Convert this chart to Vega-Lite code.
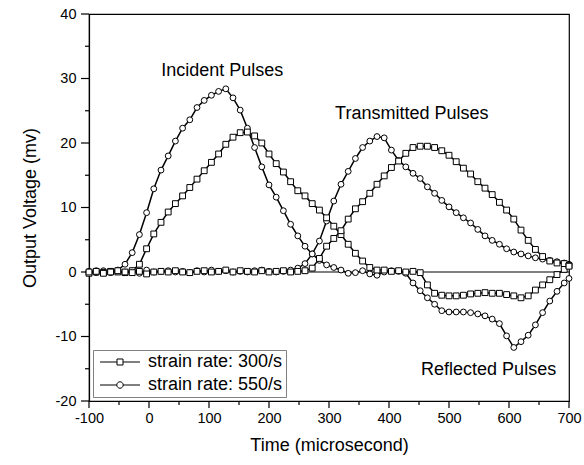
{
 "$schema": "https://vega.github.io/schema/vega-lite/v6.json",
 "width": 480,
 "height": 387,
 "autosize": {"type": "none"},
 "padding": {"left": 89, "top": 14, "right": 15, "bottom": 64},
 "background": "white",
 "config": {
  "view": {"stroke": "black", "strokeWidth": 1.2},
  "font": "Liberation Sans",
  "axis": {"grid": false, "domainColor": "black", "tickColor": "black", "labelColor": "black", "titleColor": "black", "labelFont": "Liberation Sans", "titleFont": "Liberation Sans", "labelFontSize": 14.5, "titleFontSize": 18, "titleFontWeight": "normal", "domainWidth": 1.2, "labelFlush": false}
 },
 "datasets": {
  "curves": [
   {"t":-100,"a":0.1,"b":0,"c":-0.2,"d":0},
   {"t":-88,"a":-0.1,"b":0.2,"c":0,"d":0.1},
   {"t":-76,"a":0.2,"b":0,"c":-0.1,"d":-0.2},
   {"t":-64,"a":0,"b":-0.1,"c":0.1,"d":0},
   {"t":-52,"a":0.3,"b":0.1,"c":0,"d":0.2},
   {"t":-40,"a":1.2,"b":0,"c":-0.1,"d":0},
   {"t":-28,"a":3.0,"b":0.2,"c":0.2,"d":-0.1},
   {"t":-16,"a":5.8,"b":-0.2,"c":1.2,"d":0.1},
   {"t":-4,"a":9.2,"b":0.3,"c":3.6,"d":-0.3},
   {"t":8,"a":12.9,"b":0,"c":5.9,"d":0},
   {"t":20,"a":15.8,"b":0.1,"c":7.7,"d":0.1},
   {"t":32,"a":18.0,"b":0.2,"c":9.3,"d":0},
   {"t":44,"a":20.3,"b":0,"c":10.6,"d":0.2},
   {"t":56,"a":22.3,"b":0.1,"c":11.8,"d":0},
   {"t":68,"a":23.6,"b":-0.1,"c":13.1,"d":-0.1},
   {"t":80,"a":25.5,"b":0.2,"c":14.4,"d":0.1},
   {"t":92,"a":26.6,"b":0,"c":15.7,"d":0.2},
   {"t":104,"a":27.4,"b":0.3,"c":17.0,"d":0},
   {"t":116,"a":28.0,"b":0.1,"c":18.3,"d":0.1},
   {"t":128,"a":28.4,"b":0.2,"c":19.8,"d":0.3},
   {"t":140,"a":27.0,"b":0,"c":20.9,"d":0},
   {"t":152,"a":25.1,"b":0.1,"c":21.6,"d":0.2},
   {"t":164,"a":22.3,"b":0,"c":21.7,"d":0.1},
   {"t":176,"a":19.3,"b":0.2,"c":21.1,"d":0},
   {"t":188,"a":16.3,"b":0.3,"c":20.0,"d":0.2},
   {"t":200,"a":13.5,"b":0.1,"c":18.3,"d":0},
   {"t":212,"a":11.6,"b":0,"c":16.8,"d":0.1},
   {"t":224,"a":9.5,"b":0.1,"c":15.5,"d":0.2},
   {"t":236,"a":7.4,"b":0.3,"c":14.0,"d":0},
   {"t":248,"a":5.6,"b":0.6,"c":12.6,"d":0.1},
   {"t":260,"a":4.0,"b":1.3,"c":11.8,"d":0.2},
   {"t":272,"a":2.8,"b":2.8,"c":10.6,"d":0.6},
   {"t":284,"a":1.8,"b":4.8,"c":9.6,"d":2.1},
   {"t":296,"a":1.1,"b":7.9,"c":8.4,"d":4.0},
   {"t":308,"a":0.7,"b":11.0,"c":7.1,"d":5.2},
   {"t":320,"a":0.3,"b":13.6,"c":5.8,"d":6.4},
   {"t":332,"a":-0.2,"b":15.6,"c":4.3,"d":8.2},
   {"t":344,"a":-0.1,"b":17.6,"c":2.9,"d":9.8},
   {"t":356,"a":0.2,"b":19.3,"c":1.7,"d":10.9},
   {"t":368,"a":-0.3,"b":20.3,"c":0.7,"d":12.2},
   {"t":380,"a":-0.5,"b":21.0,"c":0.3,"d":13.6},
   {"t":392,"a":0,"b":20.8,"c":0.3,"d":14.9},
   {"t":404,"a":0.2,"b":18.9,"c":0.1,"d":16.2},
   {"t":416,"a":0.1,"b":17.3,"c":0.2,"d":17.2},
   {"t":428,"a":-0.2,"b":16.3,"c":0,"d":18.4},
   {"t":440,"a":-1.7,"b":15.3,"c":0.1,"d":19.3},
   {"t":452,"a":-2.9,"b":14.5,"c":-0.1,"d":19.5},
   {"t":464,"a":-4.0,"b":13.2,"c":-2.0,"d":19.5},
   {"t":476,"a":-5.0,"b":12.2,"c":-3.3,"d":19.3},
   {"t":488,"a":-6.0,"b":11.1,"c":-3.6,"d":18.8},
   {"t":500,"a":-6.2,"b":10.1,"c":-3.7,"d":18.1},
   {"t":512,"a":-6.2,"b":9.2,"c":-3.7,"d":17.1},
   {"t":524,"a":-6.2,"b":8.4,"c":-3.6,"d":16.1},
   {"t":536,"a":-6.3,"b":7.6,"c":-3.4,"d":15.2},
   {"t":548,"a":-6.5,"b":6.6,"c":-3.3,"d":14.0},
   {"t":560,"a":-6.8,"b":5.6,"c":-3.2,"d":13.0},
   {"t":572,"a":-7.3,"b":4.9,"c":-3.3,"d":12.0},
   {"t":584,"a":-8.0,"b":4.3,"c":-3.3,"d":10.8},
   {"t":596,"a":-9.9,"b":3.6,"c":-3.5,"d":9.6},
   {"t":608,"a":-11.7,"b":3.1,"c":-3.7,"d":8.2},
   {"t":620,"a":-10.8,"b":2.8,"c":-4.0,"d":6.5},
   {"t":632,"a":-9.8,"b":2.5,"c":-3.7,"d":4.9},
   {"t":644,"a":-8.2,"b":2.2,"c":-2.8,"d":3.5},
   {"t":656,"a":-6.3,"b":2.0,"c":-2.0,"d":2.4},
   {"t":668,"a":-4.5,"b":1.8,"c":-1.2,"d":1.7},
   {"t":680,"a":-3.0,"b":1.6,"c":-0.4,"d":1.4},
   {"t":692,"a":-1.7,"b":1.4,"c":0.4,"d":1.3},
   {"t":700,"a":-1.0,"b":1.2,"c":1.0,"d":0.9}
  ],
  "series": [
   {"key":"a","rate":"strain rate: 550/s"},
   {"key":"b","rate":"strain rate: 550/s"},
   {"key":"c","rate":"strain rate: 300/s"},
   {"key":"d","rate":"strain rate: 300/s"}
  ],
  "notes": [
   {"t":122,"v":31.2,"label":"Incident Pulses"},
   {"t":438,"v":24.5,"label":"Transmitted Pulses"},
   {"t":566,"v":-15.2,"label":"Reflected Pulses"}
  ],
  "xticks": [
   {"t":-100,"m":"major"},{"t":-50,"m":"minor"},{"t":0,"m":"major"},{"t":50,"m":"minor"},
   {"t":100,"m":"major"},{"t":150,"m":"minor"},{"t":200,"m":"major"},{"t":250,"m":"minor"},
   {"t":300,"m":"major"},{"t":350,"m":"minor"},{"t":400,"m":"major"},{"t":450,"m":"minor"},
   {"t":500,"m":"major"},{"t":550,"m":"minor"},{"t":600,"m":"major"},{"t":650,"m":"minor"},
   {"t":700,"m":"major"}
  ],
  "yticks": [
   {"v":-20,"m":"major"},{"v":-15,"m":"minor"},{"v":-10,"m":"major"},{"v":-5,"m":"minor"},
   {"v":0,"m":"major"},{"v":5,"m":"minor"},{"v":10,"m":"major"},{"v":15,"m":"minor"},
   {"v":20,"m":"major"},{"v":25,"m":"minor"},{"v":30,"m":"major"},{"v":35,"m":"minor"},
   {"v":40,"m":"major"}
  ]
 },
 "resolve": {"scale": {"shape": "independent"}, "axis": {"x": "independent", "y": "independent"}},
 "layer": [
  {
   "data": {"values": [{}]},
   "mark": {"type": "rule", "stroke": "black", "strokeWidth": 1.2},
   "encoding": {"y": {"datum": 0, "type": "quantitative", "scale": {"domain": [-20, 40], "nice": false}, "axis": null}}
  },
  {
   "data": {"name": "curves"},
   "transform": [
    {"fold": ["a", "b", "c", "d"], "as": ["key", "v"]}
   ],
   "mark": {"type": "line", "stroke": "black", "strokeWidth": 1.5},
   "encoding": {
    "x": {"field": "t", "type": "quantitative", "scale": {"domain": [-100, 700], "nice": false},
          "axis": {"orient": "bottom",
                   "values": [-100, 0, 100, 200, 300, 400, 500, 600, 700],
                   "ticks": false,
                   "labelExpr": "datum.value + ''",
                   "labelPadding": 10, "title": "Time (microsecond)", "titlePadding": 12}},
    "y": {"field": "v", "type": "quantitative", "scale": {"domain": [-20, 40], "nice": false},
          "axis": {"orient": "left",
                   "values": [-20, -10, 0, 10, 20, 30, 40],
                   "ticks": false,
                   "labelExpr": "datum.value + ''",
                   "labelPadding": 13, "title": "Output Voltage (mv)", "titlePadding": 16}},
    "detail": {"field": "key"}
   }
  },
  {
   "data": {"name": "xticks"},
   "transform": [{"filter": "datum.m === 'major'"}],
   "mark": {"type": "rule", "stroke": "black", "strokeWidth": 1.2, "y2Offset": 7},
   "encoding": {
    "x": {"field": "t", "type": "quantitative", "scale": {"domain": [-100, 700], "nice": false}, "axis": null},
    "y": {"datum": -20, "type": "quantitative", "scale": {"domain": [-20, 40], "nice": false}, "axis": null},
    "y2": {"datum": -20}
   }
  },
  {
   "data": {"name": "xticks"},
   "transform": [{"filter": "datum.m === 'minor'"}],
   "mark": {"type": "rule", "stroke": "black", "strokeWidth": 1.2, "y2Offset": 4},
   "encoding": {
    "x": {"field": "t", "type": "quantitative", "scale": {"domain": [-100, 700], "nice": false}, "axis": null},
    "y": {"datum": -20, "type": "quantitative", "scale": {"domain": [-20, 40], "nice": false}, "axis": null},
    "y2": {"datum": -20}
   }
  },
  {
   "data": {"name": "yticks"},
   "transform": [{"filter": "datum.m === 'major'"}],
   "mark": {"type": "rule", "stroke": "black", "strokeWidth": 1.2, "x2Offset": -8},
   "encoding": {
    "y": {"field": "v", "type": "quantitative", "scale": {"domain": [-20, 40], "nice": false}, "axis": null},
    "x": {"datum": -100, "type": "quantitative", "scale": {"domain": [-100, 700], "nice": false}, "axis": null},
    "x2": {"datum": -100}
   }
  },
  {
   "data": {"name": "yticks"},
   "transform": [{"filter": "datum.m === 'minor'"}],
   "mark": {"type": "rule", "stroke": "black", "strokeWidth": 1.2, "x2Offset": -4},
   "encoding": {
    "y": {"field": "v", "type": "quantitative", "scale": {"domain": [-20, 40], "nice": false}, "axis": null},
    "x": {"datum": -100, "type": "quantitative", "scale": {"domain": [-100, 700], "nice": false}, "axis": null},
    "x2": {"datum": -100}
   }
  },
  {
   "data": {"name": "curves"},
   "transform": [
    {"fold": ["a", "b", "c", "d"], "as": ["key", "v"]},
    {"lookup": "key", "from": {"data": {"name": "series"}, "key": "key", "fields": ["rate"]}}
   ],
   "mark": {"type": "point", "filled": true, "fill": "white", "stroke": "black", "strokeWidth": 1, "size": 34, "opacity": 1},
   "encoding": {
    "x": {"field": "t", "type": "quantitative", "scale": {"domain": [-100, 700], "nice": false}, "axis": null},
    "y": {"field": "v", "type": "quantitative", "scale": {"domain": [-20, 40], "nice": false}, "axis": null},
    "shape": {"field": "rate", "type": "nominal",
      "scale": {"domain": ["strain rate: 300/s", "strain rate: 550/s"], "range": ["square", "circle"]},
      "legend": null}
   }
  },
  {
   "data": {"name": "series"},
   "transform": [{"filter": "false"}],
   "mark": {"type": "point", "filled": true, "fill": "white", "stroke": "black", "strokeWidth": 1, "opacity": 1},
   "encoding": {
    "x": {"datum": 0, "type": "quantitative", "scale": {"domain": [-100, 700], "nice": false}, "axis": null},
    "y": {"datum": 0, "type": "quantitative", "scale": {"domain": [-20, 40], "nice": false}, "axis": null},
    "shape": {"field": "rate", "type": "nominal",
      "scale": {"domain": ["strain rate: 300/s", "strain rate: 550/s"],
                "range": ["M-2.667,0H-0.4M0.4,0H2.667M-0.4,-0.4H0.4V0.4H-0.4Z", "M-2.667,0H-0.43M0.43,0H2.667M0.43,0A0.43,0.43,0,1,1,-0.43,0A0.43,0.43,0,1,1,0.43,0Z"]},
      "legend": {
       "title": null, "orient": "bottom-left", "offset": 4, "padding": 3,
       "strokeColor": "#808080", "fillColor": "white", "cornerRadius": 0,
       "labelFont": "Liberation Sans", "labelFontSize": 18, "labelColor": "black",
       "symbolSize": 225, "symbolStrokeWidth": 1, "symbolOffset": 15, "labelOffset": 19, "rowPadding": 5,
       "encode": {"symbols": {"update": {
         "fill": {"value": "white"}, "stroke": {"value": "black"}, "opacity": {"value": 1}, "strokeWidth": {"value": 1}
       }}}
      }}
   }
  },
  {
   "data": {"name": "notes"},
   "mark": {"type": "text", "font": "Liberation Sans", "fontSize": 18, "align": "center", "baseline": "middle", "color": "black"},
   "encoding": {
    "x": {"field": "t", "type": "quantitative", "scale": {"domain": [-100, 700], "nice": false}, "axis": null},
    "y": {"field": "v", "type": "quantitative", "scale": {"domain": [-20, 40], "nice": false}, "axis": null},
    "text": {"field": "label"}
   }
  }
 ]
}
